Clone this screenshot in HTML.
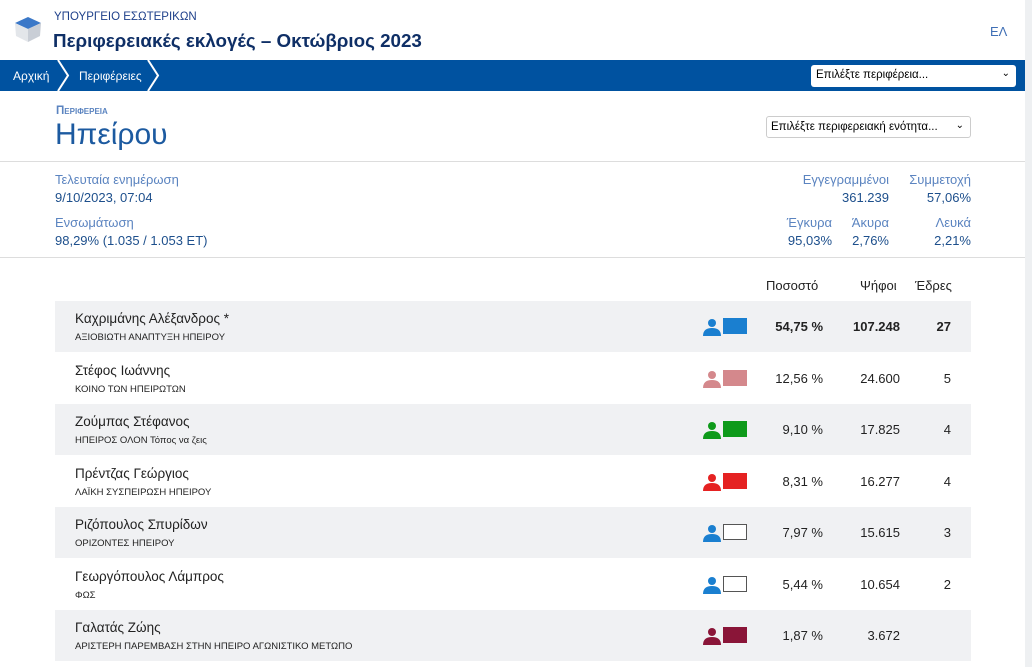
<!DOCTYPE html>
<html><head><meta charset="utf-8"><style>
*{margin:0;padding:0;box-sizing:border-box}
body{width:1032px;height:667px;overflow:hidden;background:#fff;font-family:"Liberation Sans","DejaVu Sans",sans-serif;position:relative;color:#222}
.a{position:absolute;white-space:nowrap}
.lab{color:#5b84c0;font-size:13px}
.val{color:#1d4f8c;font-size:13px}
.row{position:absolute;left:55px;width:916px;height:51px}
.g{background:#f0f1f3}
.nm{position:absolute;left:20px;top:10px;font-size:13.5px;color:#222}
.pt{position:absolute;left:20px;top:31px;font-size:9.5px;color:#222}
.ic{position:absolute;left:648px;top:17px;width:18px;height:18px}
.sw{position:absolute;left:668px;top:17px;width:24px;height:16px}
.pc{position:absolute;right:148px;top:18px;font-size:13px}
.vt{position:absolute;right:71px;top:18px;font-size:13px}
.st{position:absolute;right:20px;top:18px;font-size:13px}
.b{font-weight:bold}
</style></head><body>
<div class="a" style="left:1025px;top:0;width:7px;height:667px;background:#eef0f2"></div>
<svg class="a" style="left:13px;top:14px" width="30" height="30"><path d="M2 9 L15 3 L28 9 L15 15Z" fill="#3b78c8"/><path d="M2 9 L15 15 L15 28 L3 22Z" fill="#e3e6ea"/><path d="M28 9 L15 15 L15 28 L27 22Z" fill="#c9ced6"/></svg>
<div class="a" style="left:54px;top:11px;font-size:11.5px;color:#1d3f8a">ΥΠΟΥΡΓΕΙΟ ΕΣΩΤΕΡΙΚΩΝ</div>
<div class="a" style="left:53px;top:30px;font-size:18.8px;font-weight:bold;color:#0f2f66">Περιφερειακές εκλογές – Οκτώβριος 2023</div>
<div class="a" style="left:990px;top:24px;font-size:13px;color:#3f6fb5">ΕΛ</div>
<div class="a" style="left:0;top:60px;width:1025px;height:31px;background:#0052a0"></div>
<div class="a" style="left:13px;top:69px;font-size:12px;color:#fff">Αρχική</div>
<svg class="a" style="left:56px;top:60px" width="110" height="31"><path d="M2 0 L12 15.5 L2 31" stroke="#fff" stroke-width="2" fill="none"/><path d="M92 0 L102 15.5 L92 31" stroke="#fff" stroke-width="2" fill="none"/></svg>
<div class="a" style="left:79px;top:69px;font-size:12px;color:#fff">Περιφέρειες</div>
<div class="a" style="left:811px;top:65px;width:205px;height:22px;background:#fff;border-radius:3px;font-size:11.5px;padding:4px 5px;color:#000">Επιλέξτε περιφέρεια...<span style="position:absolute;right:6px;top:3px;font-size:10px">⌄</span></div>
<div class="a" style="left:56px;top:105px;font-size:11.5px;font-weight:bold;color:#5b84c0;font-variant:small-caps">Περιφερεια</div>
<div class="a" style="left:55px;top:118px;font-size:30px;color:#1c5aa0">Ηπείρου</div>
<div class="a" style="left:766px;top:116px;width:205px;height:22px;border:1px solid #ccc;border-radius:3px;font-size:11.5px;padding:4px 4px;color:#000">Επιλέξτε περιφερειακή ενότητα...<span style="position:absolute;right:6px;top:3px;font-size:10px">⌄</span></div>
<div class="a" style="left:0;top:161px;width:1025px;height:1px;background:#ddd"></div>
<div class="a lab" style="left:55px;top:172px">Τελευταία ενημέρωση</div>
<div class="a val" style="left:55px;top:190px">9/10/2023, 07:04</div>
<div class="a lab" style="left:55px;top:215px">Ενσωμάτωση</div>
<div class="a val" style="left:55px;top:233px">98,29% (1.035 / 1.053 ΕΤ)</div>
<div class="a lab" style="right:143px;top:172px">Εγγεγραμμένοι</div>
<div class="a val" style="right:143px;top:190px">361.239</div>
<div class="a lab" style="right:61px;top:172px">Συμμετοχή</div>
<div class="a val" style="right:61px;top:190px">57,06%</div>
<div class="a lab" style="right:200px;top:215px">Έγκυρα</div>
<div class="a val" style="right:200px;top:233px">95,03%</div>
<div class="a lab" style="right:143px;top:215px">Άκυρα</div>
<div class="a val" style="right:143px;top:233px">2,76%</div>
<div class="a lab" style="right:61px;top:215px">Λευκά</div>
<div class="a val" style="right:61px;top:233px">2,21%</div>
<div class="a" style="left:0;top:257px;width:1025px;height:1px;background:#ddd"></div>
<div class="a" style="left:766px;top:278px;font-size:13px">Ποσοστό</div>
<div class="a" style="left:860px;top:278px;font-size:13px">Ψήφοι</div>
<div class="a" style="left:915px;top:278px;font-size:13px">Έδρες</div>

<div class="row g" style="top:301px"><div class="nm">Καχριμάνης Αλέξανδρος *</div><div class="pt">ΑΞΙΟΒΙΩΤΗ ΑΝΑΠΤΥΞΗ ΗΠΕΙΡΟΥ</div>
<svg class="ic" viewBox="0 0 18 18"><circle cx="9" cy="5" r="4" fill="#1a7fd0"/><path d="M0 18 Q0 10 9 10 Q18 10 18 18Z" fill="#1a7fd0"/></svg><div class="sw" style="background:#1a7fd0"></div>
<div class="pc b">54,75 %</div><div class="vt b">107.248</div><div class="st b">27</div></div>

<div class="row" style="top:353px"><div class="nm">Στέφος Ιωάννης</div><div class="pt">ΚΟΙΝΟ ΤΩΝ ΗΠΕΙΡΩΤΩΝ</div>
<svg class="ic" viewBox="0 0 18 18"><circle cx="9" cy="5" r="4" fill="#d4888c"/><path d="M0 18 Q0 10 9 10 Q18 10 18 18Z" fill="#d4888c"/></svg><div class="sw" style="background:#d4888c"></div>
<div class="pc">12,56 %</div><div class="vt">24.600</div><div class="st">5</div></div>

<div class="row g" style="top:404px"><div class="nm">Ζούμπας Στέφανος</div><div class="pt">ΗΠΕΙΡΟΣ ΟΛΟΝ Τόπος να ζεις</div>
<svg class="ic" viewBox="0 0 18 18"><circle cx="9" cy="5" r="4" fill="#0e9a1a"/><path d="M0 18 Q0 10 9 10 Q18 10 18 18Z" fill="#0e9a1a"/></svg><div class="sw" style="background:#0e9a1a"></div>
<div class="pc">9,10 %</div><div class="vt">17.825</div><div class="st">4</div></div>

<div class="row" style="top:456px"><div class="nm">Πρέντζας Γεώργιος</div><div class="pt">ΛΑΪΚΗ ΣΥΣΠΕΙΡΩΣΗ ΗΠΕΙΡΟΥ</div>
<svg class="ic" viewBox="0 0 18 18"><circle cx="9" cy="5" r="4" fill="#e52222"/><path d="M0 18 Q0 10 9 10 Q18 10 18 18Z" fill="#e52222"/></svg><div class="sw" style="background:#e52222"></div>
<div class="pc">8,31 %</div><div class="vt">16.277</div><div class="st">4</div></div>

<div class="row g" style="top:507px"><div class="nm">Ριζόπουλος Σπυρίδων</div><div class="pt">ΟΡΙΖΟΝΤΕΣ ΗΠΕΙΡΟΥ</div>
<svg class="ic" viewBox="0 0 18 18"><circle cx="9" cy="5" r="4" fill="#1a7fd0"/><path d="M0 18 Q0 10 9 10 Q18 10 18 18Z" fill="#1a7fd0"/></svg><div class="sw" style="background:#fff;border:1px solid #555"></div>
<div class="pc">7,97 %</div><div class="vt">15.615</div><div class="st">3</div></div>

<div class="row" style="top:559px"><div class="nm">Γεωργόπουλος Λάμπρος</div><div class="pt">ΦΩΣ</div>
<svg class="ic" viewBox="0 0 18 18"><circle cx="9" cy="5" r="4" fill="#1a7fd0"/><path d="M0 18 Q0 10 9 10 Q18 10 18 18Z" fill="#1a7fd0"/></svg><div class="sw" style="background:#fff;border:1px solid #555"></div>
<div class="pc">5,44 %</div><div class="vt">10.654</div><div class="st">2</div></div>

<div class="row g" style="top:610px"><div class="nm">Γαλατάς Ζώης</div><div class="pt">ΑΡΙΣΤΕΡΗ ΠΑΡΕΜΒΑΣΗ ΣΤΗΝ ΗΠΕΙΡΟ ΑΓΩΝΙΣΤΙΚΟ ΜΕΤΩΠΟ</div>
<svg class="ic" viewBox="0 0 18 18"><circle cx="9" cy="5" r="4" fill="#8a1538"/><path d="M0 18 Q0 10 9 10 Q18 10 18 18Z" fill="#8a1538"/></svg><div class="sw" style="background:#8a1538"></div>
<div class="pc">1,87 %</div><div class="vt">3.672</div><div class="st"></div></div>
</body></html>
